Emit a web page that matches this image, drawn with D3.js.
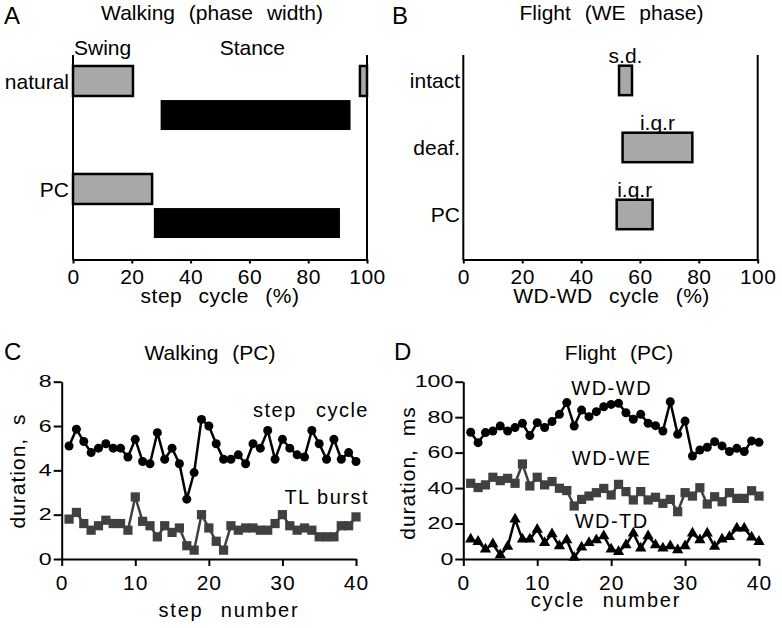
<!DOCTYPE html>
<html><head><meta charset="utf-8">
<script src="https://cdn.jsdelivr.net/npm/d3@7"></script>
<style>
body{margin:0;background:#fff}
svg text{font-family:"Liberation Sans",Arial,sans-serif;fill:#000}
</style></head><body>
<svg id="c" width="782" height="628"></svg>
<script>
// ---------- Panel A: Walking (phase width) ----------
const walkConditions = ["natural", "PC"];
const walkPhases = ["swing", "stance"];
const swingStart = [97.6, 0];
const swingEnd = [20.4, 26.9];
const stanceStart = [29.8, 27.5];
const stanceEnd = [94.4, 90.8];
const percentTicks = [0, 20, 40, 60, 80, 100];

// ---------- Panel B: Flight (WE phase) ----------
const flightConditions = ["intact", "deaf.", "PC"];
const weStart = [52.9, 54.1, 52.1];
const weEnd = [57.3, 77.8, 64.3];
const weLabels = ["s.d.", "i.q.r", "i.q.r"];

// ---------- Panel C: Walking (PC) ----------
const stepNumber = [1,2,3,4,5,6,7,8,9,10,11,12,13,14,15,16,17,18,19,20,21,22,23,24,25,26,27,28,29,30,31,32,33,34,35,36,37,38,39,40];
const stepCycle = [5.1,5.86,5.3,4.8,5.0,5.2,5.0,5.0,4.6,5.4,4.4,4.3,5.7,4.5,5.0,4.3,2.7,3.9,6.3,6.0,5.2,4.5,4.5,4.7,4.3,5.2,5.0,5.8,4.5,5.4,5.0,4.7,4.6,5.8,5.2,4.5,5.4,4.5,4.8,4.4];
const tlBurst = [1.8,2.1,1.6,1.3,1.5,1.75,1.6,1.6,1.3,2.8,1.7,1.5,1.0,1.5,1.2,1.4,0.6,0.4,2.0,1.4,0.8,0.4,1.5,1.3,1.4,1.4,1.3,1.3,1.6,2.0,1.5,1.3,1.4,1.3,1.0,1.0,1.0,1.5,1.5,1.9];
const cXTicks = [0, 10, 20, 30, 40];
const cYTicks = [0, 2, 4, 6, 8];

// ---------- Panel D: Flight (PC) ----------
const cycleNumber = [1,2,3,4,5,6,7,8,9,10,11,12,13,14,15,16,17,18,19,20,21,22,23,24,25,26,27,28,29,30,31,32,33,34,35,36,37,38,39,40];
const wdwd = [71.5,65.6,71.3,72.2,75,72.2,74.1,76.5,69.6,76.9,74.1,77.5,81.6,88.2,75,84,80.3,83.1,85.9,87.2,87.8,82.5,78.8,81.6,76.5,75.2,72.2,88.7,70.3,77.8,58.1,61.5,63,66.2,63.8,60.6,62.4,60.6,66.6,65.8];
const wdwe = [42.7,40.3,41.8,46.1,44.2,45.5,42.7,53.6,41.2,46.1,41.8,43.7,39.9,38.6,29.9,33.6,35.5,37.4,39.8,36.1,42.1,38,33.3,38,33.3,34.8,31.4,33.6,26.7,37.4,35.5,40.2,31,35.1,32.3,37.4,34.2,34.2,38.5,35.5];
const wdtd = [11.1,9.8,5.5,8.5,2.3,7,22.4,11.1,11.1,16.7,9.2,14.1,7.3,10.7,0.8,6.6,9.2,10.7,13,5.5,4.1,7.9,14.5,6,13,7.9,6,7.3,5.1,7.3,14.5,10.7,14.5,7,11.1,12.6,17.3,17.3,12.2,9.8];
const dXTicks = [0, 10, 20, 30, 40];
const dYTicks = [0, 20, 40, 60, 80, 100];

const svg = d3.select("#c");
const GRAY = "#a8a8a8";
const DARK = "#404040";

function label(x, y, s, o = {}) {
  const t = svg.append("text").attr("x", x).attr("y", y).text(s)
    .attr("font-size", o.fs || 21)
    .attr("text-anchor", o.anchor || "middle");
  if (o.ls) t.style("letter-spacing", o.ls + "px");
  if (o.ws) t.style("word-spacing", o.ws + "px");
  if (o.rot) t.attr("transform", `rotate(-90,${x},${y})`);
  return t;
}
function styleAxis(g) {
  g.selectAll("path.domain").attr("stroke", "#000").attr("stroke-width", 2);
  g.selectAll(".tick line").attr("stroke", "#000").attr("stroke-width", 2);
  g.selectAll(".tick text").attr("fill", "#000")
    .style("font-family", '"Liberation Sans",Arial,sans-serif');
  g.attr("font-family", null).attr("font-size", null);
}

// ================= Panel A =================
{
  const x = d3.scaleLinear().domain([0, 100]).range([73, 367]);
  const y = d3.scaleBand().domain(walkConditions).range([55, 259])
    .paddingInner(0.407).paddingOuter(0.148).align(0.344);
  const yp = d3.scaleBand().domain(walkPhases).range([0, y.bandwidth()]).paddingInner(0.12);

  // swing segments (wrapping around the cycle)
  const segs = [];
  walkConditions.forEach((c, i) => {
    if (swingStart[i] > swingEnd[i]) {
      segs.push({c, a: swingStart[i], b: 100});
      segs.push({c, a: 0, b: swingEnd[i]});
    } else segs.push({c, a: swingStart[i], b: swingEnd[i]});
  });
  svg.append("g").selectAll("rect").data(segs).join("rect")
    .attr("x", d => x(d.a)).attr("width", d => x(d.b) - x(d.a))
    .attr("y", d => y(d.c) + yp("swing")).attr("height", yp.bandwidth())
    .attr("fill", GRAY).attr("stroke", "#000").attr("stroke-width", 2.5);
  svg.append("g").selectAll("rect").data(walkConditions).join("rect")
    .attr("x", (d, i) => x(stanceStart[i])).attr("width", (d, i) => x(stanceEnd[i]) - x(stanceStart[i]))
    .attr("y", d => y(d) + yp("stance")).attr("height", yp.bandwidth())
    .attr("fill", "#000");

  const ax = svg.append("g").attr("transform", "translate(0,259.5)")
    .call(d3.axisBottom(x).tickValues(percentTicks).tickSize(4).tickPadding(6).tickSizeOuter(0));
  styleAxis(ax);
  ax.selectAll(".tick text").attr("font-size", 21).style("letter-spacing", "0.5px");
  svg.append("line").attr("x1", x(0)).attr("x2", x(0)).attr("y1", 55).attr("y2", 260)
    .attr("stroke", "#000").attr("stroke-width", 2);
  svg.append("line").attr("x1", x(100)).attr("x2", x(100)).attr("y1", 55).attr("y2", 260)
    .attr("stroke", "#000").attr("stroke-width", 2);

  walkConditions.forEach(c => {
    label(69, y(c) + yp("swing") + yp.bandwidth() / 2, c, {anchor: "end"}).attr("dy", "0.36em");
  });
  label(x(0) + 1, 55, "Swing", {anchor: "start"});
  label(x(61), 55, "Stance");
  label(212, 20, "Walking (phase width)", {ws: 8});
  label(220, 303, "step cycle (%)", {ws: 10, ls: 0.5});
  label(4, 24, "A", {anchor: "start", fs: 24});
}

// ================= Panel B =================
{
  const x = d3.scaleLinear().domain([0, 100]).range([463.3, 757.7]);
  const y = d3.scaleBand().domain(flightConditions).range([55, 259])
    .paddingInner(0.56).paddingOuter(0.302).align(0.264);

  svg.append("g").selectAll("rect").data(flightConditions).join("rect")
    .attr("x", (d, i) => x(weStart[i])).attr("width", (d, i) => x(weEnd[i]) - x(weStart[i]))
    .attr("y", d => y(d)).attr("height", y.bandwidth())
    .attr("fill", GRAY).attr("stroke", "#000").attr("stroke-width", 2.5);
  flightConditions.forEach((c, i) => {
    label((x(weStart[i]) + x(weEnd[i])) / 2, y(c) - 3, weLabels[i]);
    label(460, y(c) + y.bandwidth() / 2, c, {anchor: "end"}).attr("dy", "0.36em");
  });

  const ax = svg.append("g").attr("transform", "translate(0,259.5)")
    .call(d3.axisBottom(x).tickValues(percentTicks).tickSize(4).tickPadding(6).tickSizeOuter(0));
  styleAxis(ax);
  ax.selectAll(".tick text").attr("font-size", 21).style("letter-spacing", "0.5px");
  svg.append("line").attr("x1", x(0)).attr("x2", x(0)).attr("y1", 55).attr("y2", 260)
    .attr("stroke", "#000").attr("stroke-width", 2);
  svg.append("line").attr("x1", x(100)).attr("x2", x(100)).attr("y1", 55).attr("y2", 260)
    .attr("stroke", "#000").attr("stroke-width", 2);

  label(611.5, 20, "Flight (WE phase)", {ws: 8});
  label(611.5, 303, "WD-WD cycle (%)", {ws: 10, ls: 0.5});
  label(392, 24, "B", {anchor: "start", fs: 24});
}

// helper for squashed y tick labels
function squashY(g, sx, off) {
  g.selectAll(".tick text").attr("font-size", 16)
    .attr("x", -off / sx).attr("transform", `scale(${sx},1)`);
}

// ================= Panel C =================
{
  const x = d3.scaleLinear().domain([0, 40]).range([61.7, 356]);
  const y = d3.scaleLinear().domain([0, 8]).range([559, 381.7]);

  const ax = svg.append("g").attr("transform", "translate(0,559)")
    .call(d3.axisBottom(x).tickValues(cXTicks).tickSize(7).tickPadding(9).tickSizeOuter(0));
  styleAxis(ax);
  ax.selectAll(".tick text").attr("font-size", 21).style("letter-spacing", "1px");
  const ay = svg.append("g").attr("transform", "translate(61.7,0)")
    .call(d3.axisLeft(y).tickValues(cYTicks).tickSize(8).tickPadding(2).tickSizeOuter(0));
  styleAxis(ay);
  squashY(ay, 1.45, 10);

  const line = d3.line().x((d, i) => x(stepNumber[i])).y(d => y(d));
  svg.append("path").datum(tlBurst).attr("d", line).attr("fill", "none")
    .attr("stroke", DARK).attr("stroke-width", 2.5);
  svg.append("g").selectAll("path").data(tlBurst).join("path")
    .attr("d", d3.symbol(d3.symbolSquare, 85))
    .attr("transform", (d, i) => `translate(${x(stepNumber[i])},${y(d)})`)
    .attr("fill", DARK);
  svg.append("path").datum(stepCycle).attr("d", line).attr("fill", "none")
    .attr("stroke", "#000").attr("stroke-width", 2.5);
  svg.append("g").selectAll("circle").data(stepCycle).join("circle")
    .attr("cx", (d, i) => x(stepNumber[i])).attr("cy", d => y(d)).attr("r", 4.5)
    .attr("fill", "#000");

  label(369, 417, "step cycle", {anchor: "end", fs: 20, ls: 1.5, ws: 12});
  label(369, 504, "TL burst", {anchor: "end", fs: 20, ls: 1.5});
  label(210, 360, "Walking (PC)", {ws: 8});
  label(229, 617, "step number", {fs: 20, ls: 1.8, ws: 10});
  label(25, 471, "duration, s", {fs: 21, ls: 1, ws: 6, rot: true});
  label(4, 360, "C", {anchor: "start", fs: 24});
}

// ================= Panel D =================
{
  const x = d3.scaleLinear().domain([0, 40]).range([463.3, 759]);
  const y = d3.scaleLinear().domain([0, 100]).range([559, 381.7]);

  const ax = svg.append("g").attr("transform", "translate(0,559)")
    .call(d3.axisBottom(x).tickValues(dXTicks).tickSize(7).tickPadding(9).tickSizeOuter(0));
  styleAxis(ax);
  ax.selectAll(".tick text").attr("font-size", 21).style("letter-spacing", "1px");
  const ay = svg.append("g").attr("transform", "translate(463.3,0)")
    .call(d3.axisLeft(y).tickValues(dYTicks).tickSize(8).tickPadding(2).tickSizeOuter(0));
  styleAxis(ay);
  squashY(ay, 1.45, 10);

  const line = d3.line().x((d, i) => x(cycleNumber[i])).y(d => y(d));
  // WD-TD triangles
  svg.append("path").datum(wdtd).attr("d", line).attr("fill", "none")
    .attr("stroke", "#000").attr("stroke-width", 2.5);
  svg.append("g").selectAll("path").data(wdtd).join("path")
    .attr("d", d3.symbol(d3.symbolTriangle, 55))
    .attr("transform", (d, i) => `translate(${x(cycleNumber[i])},${y(d)})`)
    .attr("fill", "#000");
  // WD-WE squares
  svg.append("path").datum(wdwe).attr("d", line).attr("fill", "none")
    .attr("stroke", DARK).attr("stroke-width", 2.5);
  svg.append("g").selectAll("path").data(wdwe).join("path")
    .attr("d", d3.symbol(d3.symbolSquare, 85))
    .attr("transform", (d, i) => `translate(${x(cycleNumber[i])},${y(d)})`)
    .attr("fill", DARK);
  // WD-WD circles
  svg.append("path").datum(wdwd).attr("d", line).attr("fill", "none")
    .attr("stroke", "#000").attr("stroke-width", 2.5);
  svg.append("g").selectAll("circle").data(wdwd).join("circle")
    .attr("cx", (d, i) => x(cycleNumber[i])).attr("cy", d => y(d)).attr("r", 4.5)
    .attr("fill", "#000");

  label(611.7, 395, "WD-WD", {fs: 20, ls: 1.5});
  label(611.7, 465, "WD-WE", {fs: 20, ls: 1.5});
  label(611.7, 528, "WD-TD", {fs: 20, ls: 1.5});
  label(619, 360, "Flight (PC)", {ws: 8});
  label(606, 607, "cycle number", {fs: 20, ls: 1.8, ws: 10});
  label(415, 473, "duration, ms", {fs: 21, ls: 1, ws: 6, rot: true});
  label(394, 360, "D", {anchor: "start", fs: 24});
}
</script>
</body></html>
